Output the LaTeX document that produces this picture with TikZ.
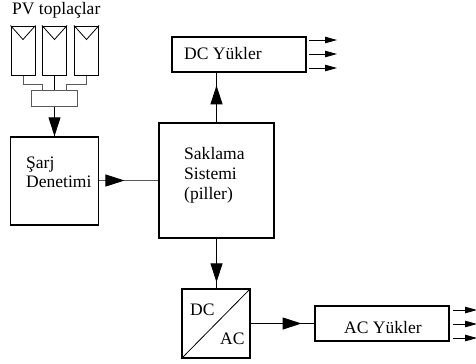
\documentclass[tikz,border=0pt]{standalone}
\usepackage{fontspec}
\setmainfont{Liberation Serif}
\usetikzlibrary{arrows.meta,decorations.markings,calc}
\tikzset{
  x=1bp,y=-1bp,
  block/.style={draw=black,line width=1.5bp,fill=white,rectangle,inner sep=0pt,minimum width=#1},
  panel/.style={draw=black,line width=1bp,rectangle,inner sep=0pt,minimum width=24bp,minimum height=49bp},
  lbl/.style={inner sep=0pt,anchor=base west,font=\fontsize{17.6}{20}\selectfont},
  wire/.style={draw=black!65,line width=1bp},
  conn/.style={draw=black,line width=1bp},
  headat/.style={postaction=decorate,decoration={markings,mark=at position #1 with {\arrow{Triangle[length=19bp,width=12bp,black]}}}},
  smallout/.style={draw=black,line width=.8bp,-{Triangle[length=12bp,width=6.5bp]}}
}
\begin{document}
\begin{tikzpicture}
\useasboundingbox (0,0) rectangle (476,363);
% PV array
\node[lbl] (pvt) at (12,14) {PV toplaçlar};
\node[panel] (p1) at (23,50.5) {};
\node[panel] (p2) at (54.5,50.5) {};
\node[panel] (p3) at (86.5,50.5) {};
\draw[line width=.8bp] (p1.north west) -- ($(p1.north)+(0,14)$) -- (p1.north east);
\draw[line width=.8bp] (p2.north west) -- ($(p2.north)+(0,14)$) -- (p2.north east);
\draw[line width=.8bp] (p3.north west) -- ($(p3.north)+(0,14)$) -- (p3.north east);
\node[draw=black!65,line width=1bp,rectangle,inner sep=0pt,minimum width=46bp,minimum height=16bp] (jb) at (54.5,98) {};
\coordinate (jl) at (42,90);
\coordinate (jr) at (66.5,90);
\draw[wire] (p1.south) -- ++(0,9) -| (jl);
\draw[conn] (p2.south) -- (p2.south |- jb.north);
\draw[wire] (p3.south) -- ++(0,9) -| (jr);
% Boxes
\node[block=87.5bp,minimum height=88bp] (ctl) at (54.5,181) {};
\node[lbl] (ctl1) at (26,168) {Şarj};
\node[lbl] (ctl2) at (26,187) {Denetimi};
\node[block=115bp,minimum height=115bp] (sto) at (216.5,180.5) {};
\node[lbl] (sto1) at (184,159) {Saklama};
\node[lbl] (sto2) at (184,179) {Sistemi};
\node[lbl] (sto3) at (184,199) {(piller)};
\node[block=134bp,minimum height=35bp] (dcl) at (239,54.5) {};
\node[lbl] (dcl1) at (184,59) {DC Yükler};
\node[block=68bp,minimum height=69bp] (inv) at (216,323.5) {};
\draw[line width=.8bp] (inv.south west) -- (inv.north east);
\node[lbl] (inv1) at (190,315) {DC};
\node[lbl] (inv2) at (220,344) {AC};
\node[block=134bp,minimum height=35bp] (acl) at (382,323.5) {};
\node[lbl] (acl1) at (344,333) {AC Yükler};
% Connectors with mid-line heads
\draw[conn,headat=1] (jb.south) -- (ctl.north);
\draw[wire,headat=.43] (ctl.east |- sto.west) -- (sto.west);
\draw[conn,headat=.745] (sto.north) -- (sto.north |- dcl.south);
\draw[conn,headat=.88] (sto.south) -- (sto.south |- inv.north);
\draw[conn,headat=.8] (inv.east) -- (acl.west);
% Output arrows
\foreach \n/\yy in {a/40,b/54,c/68}{
  \coordinate (dc\n s) at (309,\yy);
  \coordinate (dc\n e) at (337,\yy);
  \draw[smallout] (dc\n s) -- (dc\n e);
}
\foreach \n/\yy in {a/310,b/324,c/338}{
  \coordinate (ac\n s) at (453,\yy);
  \coordinate (ac\n e) at (477,\yy);
  \draw[smallout] (ac\n s) -- (ac\n e);
}
\end{tikzpicture}
\end{document}
